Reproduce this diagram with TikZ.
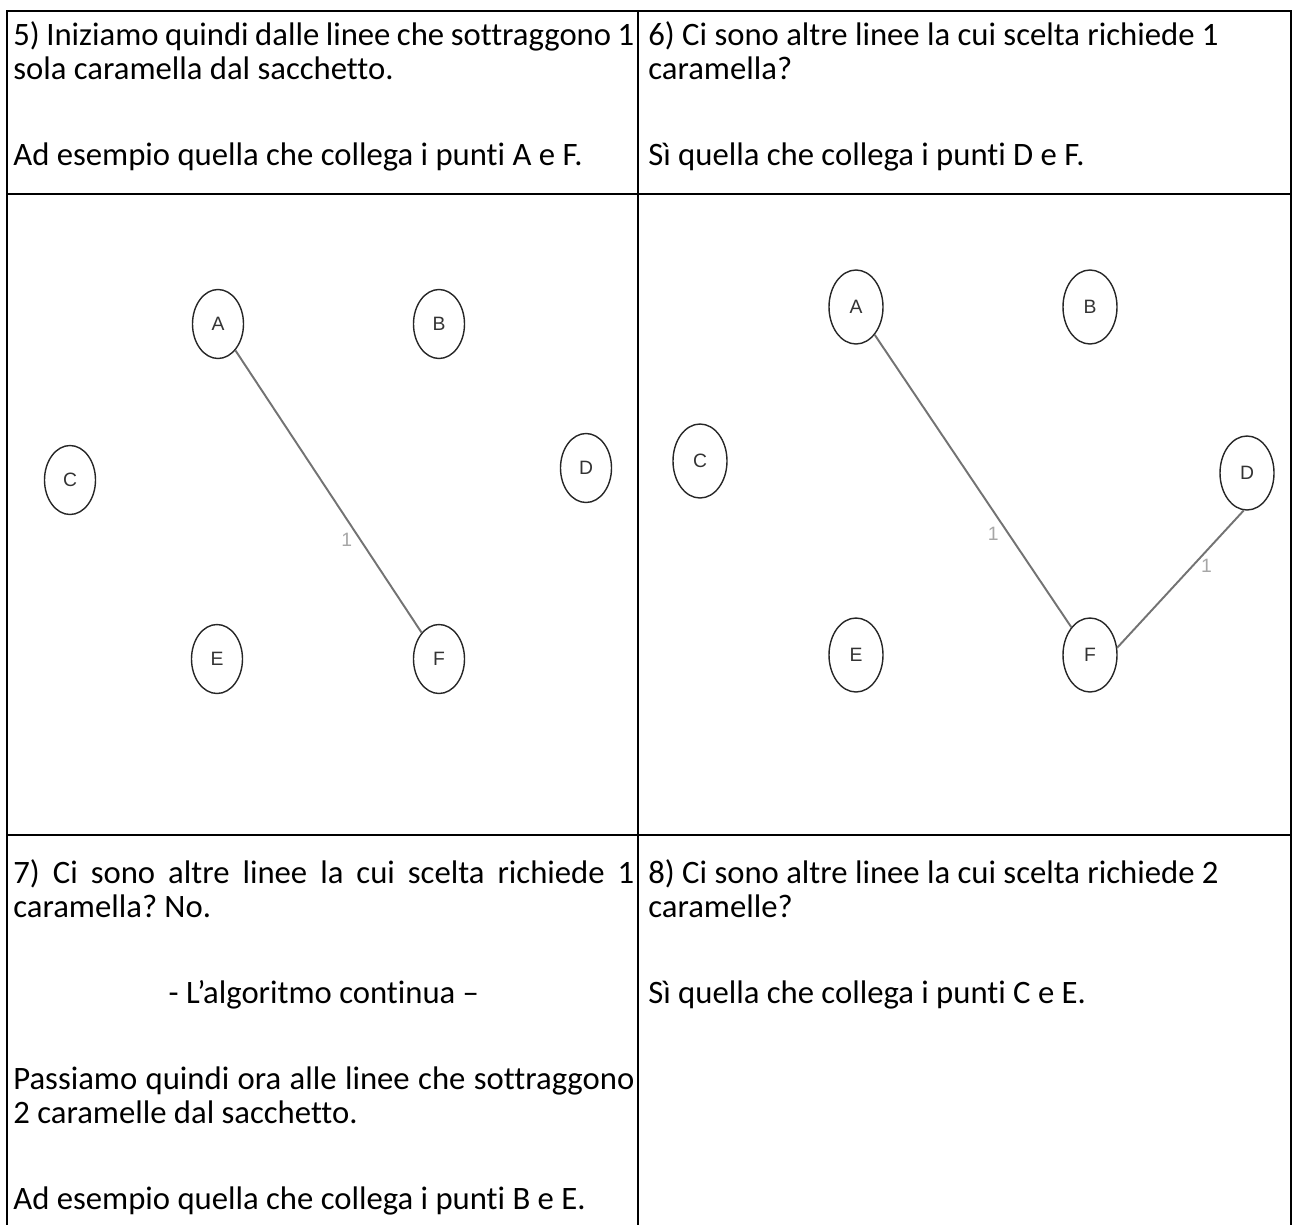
\documentclass[tikz,border=0pt]{standalone}
\usepackage{fontspec}
\setmainfont{Carlito}[Ligatures={NoCommon}]
\newfontfamily\graphfont{Liberation Sans}
\usetikzlibrary{shapes.geometric}

\newcommand{\cellfont}{\fontsize{18.6pt}{19.35pt}\selectfont\frenchspacing}
\newcommand{\natspace}{\spaceskip=0pt\xspaceskip=0pt\relax}
\newcommand{\vtxfont}{\graphfont\fontsize{11pt}{13pt}\selectfont}

\begin{document}
\begin{tikzpicture}[
  x=0.2mm, y=-0.2mm,
  grid/.style={line width=1.5pt, line cap=rect},
  cell/.style={anchor=base west, inner sep=0pt, text width=12.42cm, align=left, font=\cellfont},
  cellr/.style={cell, text width=12.74cm},
  vtx/.style={ellipse, draw=black!85, line width=0.8pt, inner sep=0pt,
    minimum width=1.02cm, minimum height=1.38cm, font=\vtxfont, text=black!80},
  vtxr/.style={vtx, minimum width=1.08cm, minimum height=1.48cm},
  link/.style={draw=black!55, line width=1.1pt},
  wt/.style={font=\vtxfont, text=black!35, inner sep=1pt}
]
\useasboundingbox (0,0) rectangle (1292,1224);

% ── table ──
\draw[grid] (7,1224) -- (7,11) -- (1291,11) -- (1291,1224);
\draw[grid] (638,11) -- (638,1224);
\draw[grid] (7,194) -- (1291,194);
\draw[grid] (7,835) -- (1291,835);

% ── step 5 / step 6 ──
\node[cell] (s5) at (13,45)
  {\natspace
   \makebox[\linewidth][s]{5) Iniziamo quindi dalle linee che sottraggono 1}\\
   sola caramella dal sacchetto.\\[29.6pt]
   Ad esempio quella che collega i punti A e F.};
\node[cellr] (s6) at (648,45)
  {\natspace
   6) Ci sono altre linee la cui scelta richiede 1\\
   caramella?\\[29.6pt]
   Sì quella che collega i punti D e F.};

% ── left graph ──
\node[vtx] (a1) at (218,324) {A};
\node[vtx] (b1) at (439,324) {B};
\node[vtx] (c1) at (70,480) {C};
\node[vtx] (d1) at (586,468) {D};
\node[vtx] (e1) at (217,659) {E};
\node[vtx] (f1) at (439,659) {F};

\draw[link] (a1) -- node[wt, pos=0.67, left=3pt] {1} (f1);

% ── right graph ──
\node[vtxr] (a2) at (856,307) {A};
\node[vtxr] (b2) at (1090,307) {B};
\node[vtxr] (c2) at (700,461) {C};
\node[vtxr] (d2) at (1247,473) {D};
\node[vtxr] (e2) at (856,655) {E};
\node[vtxr] (f2) at (1090,655) {F};

\draw[link] (a2) -- node[wt, pos=0.68, left=4pt] {1} (f2);
\draw[link] (f2.15) -- node[wt, pos=0.6, right=3pt] {1} (d2.265);

% ── step 7 / step 8 ──
\node[cell] (s7) at (13,883)
  {\natspace
   \makebox[\linewidth][s]{7) Ci sono altre linee la cui scelta richiede 1}\\
   caramella? No.\\[29.6pt]
   \makebox[\linewidth][c]{- L’algoritmo continua –}\\[29.6pt]
   \makebox[\linewidth][s]{Passiamo quindi ora alle linee che sottraggono}\\
   2 caramelle dal sacchetto.\\[29.6pt]
   Ad esempio quella che collega i punti B e E.};
\node[cellr] (s8) at (648,883)
  {\natspace
   8) Ci sono altre linee la cui scelta richiede 2\\
   caramelle?\\[29.6pt]
   Sì quella che collega i punti C e E.};

\end{tikzpicture}
\end{document}
